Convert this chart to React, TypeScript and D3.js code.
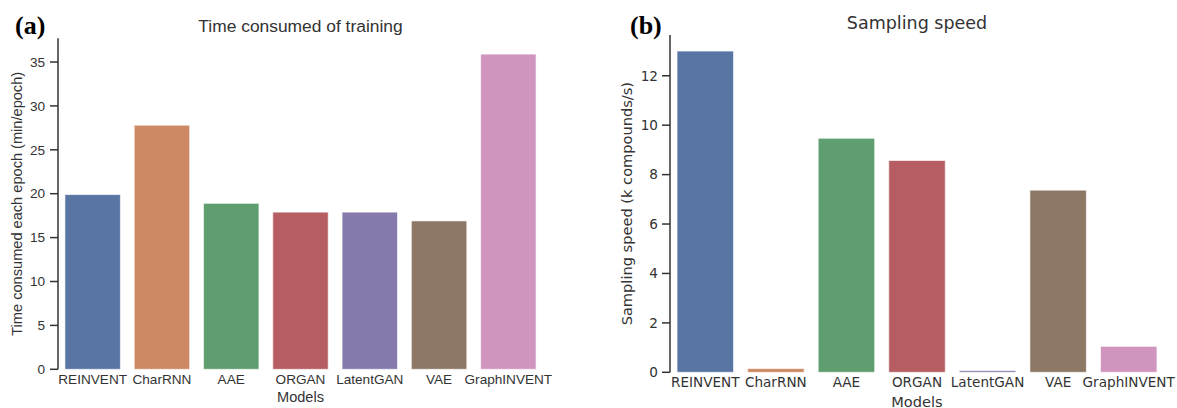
import * as d3 from 'd3'

const MODELS = ['REINVENT', 'CharRNN', 'AAE', 'ORGAN', 'LatentGAN', 'VAE', 'GraphINVENT']
const TRAIN_TIME = [19.9, 27.8, 18.9, 17.9, 17.9, 16.9, 35.9]
const SAMPLE_SPEED = [13.0, 0.15, 9.47, 8.57, 0.07, 7.37, 1.05]
const TRAIN_TICKS = [0, 5, 10, 15, 20, 25, 30, 35]
const SPEED_TICKS = [0, 2, 4, 6, 8, 10, 12]
const COLORS = ['#5975a4', '#cc8963', '#5f9e6e', '#b55d60', '#857aab', '#8d7866', '#d095bf']

type PanelProps = {
  values: number[]
  ticks: number[]
  yMax: number
  x0: number
  x1: number
  yBottom: number
  yTop: number
  font: string
  fontSize: number
  labelSize: number
  tickGap: number
  title: string
  titleSize: number
  titleY: number
  yLabel: string
  yLabelX: number
  xTickY: number
  xLabelY: number
  tag: string
  tagX: number
}

function Panel(p: PanelProps) {
  const x = d3.scaleBand<string>().domain(MODELS).range([p.x0, p.x1]).paddingInner(0.2).paddingOuter(0.1)
  const y = d3.scaleLinear().domain([0, p.yMax]).range([p.yBottom, p.yTop])
  const ink = '#333'
  const cx = (p.x0 + p.x1) / 2
  return (
    <g fontFamily={p.font} fill={ink}>
      {p.values.map((v, i) => (
        <rect
          key={MODELS[i]}
          x={x(MODELS[i])}
          width={x.bandwidth()}
          y={y(v)}
          height={y(0) - y(v)}
          fill={COLORS[i]}
          stroke="#fff"
          strokeOpacity={0.6}
          strokeWidth={1}
        />
      ))}
      <line x1={p.x0} x2={p.x0} y1={p.yTop} y2={p.yBottom} stroke={ink} strokeWidth={1.5} />
      {p.ticks.map(t => (
        <g key={t} transform={`translate(${p.x0},${y(t)})`}>
          <line x1={-8} x2={0} stroke={ink} strokeWidth={1.5} />
          <text x={-8 - p.tickGap} dy="0.35em" textAnchor="end" fontSize={p.fontSize}>{t}</text>
        </g>
      ))}
      {MODELS.map(m => (
        <text key={m} x={x(m)! + x.bandwidth() / 2} y={p.xTickY} textAnchor="middle" fontSize={p.fontSize}>{m}</text>
      ))}
      <text x={cx} y={p.xLabelY} textAnchor="middle" fontSize={p.labelSize}>Models</text>
      <text
        transform={`translate(${p.yLabelX},${(p.yTop + p.yBottom) / 2}) rotate(-90)`}
        textAnchor="middle"
        fontSize={p.labelSize}
      >{p.yLabel}</text>
      <text x={cx} y={p.titleY} textAnchor="middle" fontSize={p.titleSize}>{p.title}</text>
      <text x={p.tagX} y={34} fontFamily="Liberation Serif" fontWeight="bold" fontSize={26} fill="#000">{p.tag}</text>
    </g>
  )
}

export default function App() {
  return (
    <svg width={1177} height={408} style={{ position: 'absolute', left: 0, top: 0, background: '#fff' }}>
      <rect width={1177} height={408} fill="#fff" />
      <Panel
        values={TRAIN_TIME}
        ticks={TRAIN_TICKS}
        yMax={37.7}
        x0={58}
        x1={543}
        yBottom={369.3}
        yTop={38.3}
        font="Liberation Sans, Arial, sans-serif"
        fontSize={13.6}
        labelSize={14.6}
        tickGap={5}
        title="Time consumed of training"
        titleSize={17.4}
        titleY={31.5}
        yLabel="Time consumed each epoch (min/epoch)"
        yLabelX={22}
        xTickY={383.5}
        xLabelY={401.5}
        tag="(a)"
        tagX={15}
      />
      <Panel
        values={SAMPLE_SPEED}
        ticks={SPEED_TICKS}
        yMax={13.65}
        x0={670}
        x1={1164}
        yBottom={372.3}
        yTop={35}
        font="DejaVu Sans, sans-serif"
        fontSize={13.6}
        labelSize={14.6}
        tickGap={4}
        title="Sampling speed"
        titleSize={17.5}
        titleY={28.5}
        yLabel="Sampling speed (k compounds/s)"
        yLabelX={632}
        xTickY={386.5}
        xLabelY={406.5}
        tag="(b)"
        tagX={630}
      />
    </svg>
  )
}
